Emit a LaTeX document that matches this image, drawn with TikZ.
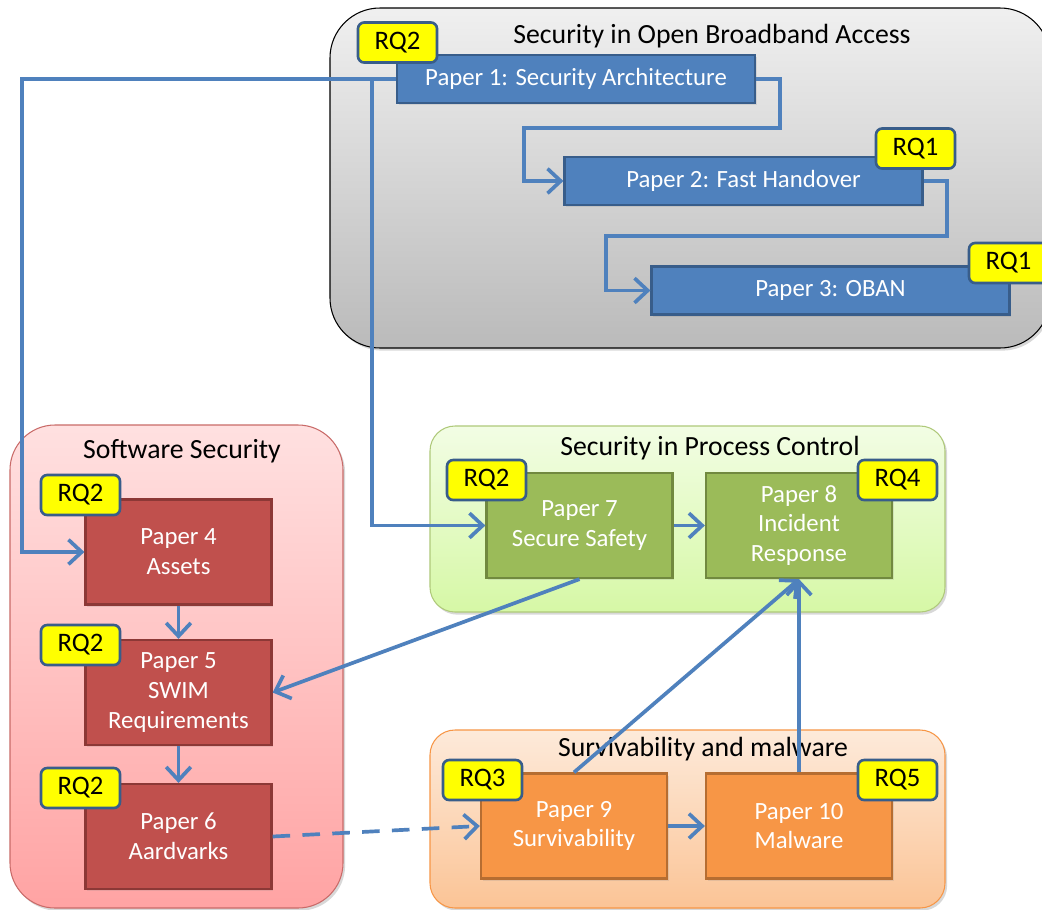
\documentclass[tikz,border=0pt]{standalone}
\usepackage{fontspec}
\setmainfont{Carlito}
\usetikzlibrary{arrows.meta,fit,shadows}

\definecolor{linkblue}{HTML}{4F81BD}
\definecolor{blueedge}{HTML}{385D8A}
\definecolor{redfill}{HTML}{C0504D}
\definecolor{rededge}{HTML}{8C3836}
\definecolor{greenfill}{HTML}{9BBB59}
\definecolor{greenedge}{HTML}{71893F}
\definecolor{orangefill}{HTML}{F79646}
\definecolor{orangeedge}{HTML}{B66D31}
\definecolor{rqyellow}{HTML}{FFFF00}

\newcommand\grptitlefont{\fontsize{15.8}{19}\selectfont}
\newcommand\rqlabelfont{\fontsize{15.2}{18}\selectfont}
\newcommand\paperlabelfont{\fontsize{14.1}{17}\selectfont}

\tikzset{
  group/.style={draw, line width=0.6pt, inner sep=0pt,
    drop shadow={opacity=0.3, shadow xshift=1.2pt, shadow yshift=-1.5pt}},
  grptitle/.style={font=\grptitlefont, text=black, inner sep=0pt},
  paper/.style={draw, line width=1.3pt, text=white, font=\paperlabelfont,
    align=center, inner sep=0pt,
    drop shadow={opacity=0.18, shadow xshift=1pt, shadow yshift=-1.2pt}},
  widepaper/.style={minimum width=7.16cm, minimum height=0.96cm},
  tallpaper/.style={minimum width=3.72cm, minimum height=2.1cm},
  bluepaper/.style={paper, widepaper, fill=linkblue, draw=blueedge},
  redpaper/.style={paper, tallpaper, fill=redfill, draw=rededge},
  greenpaper/.style={paper, tallpaper, fill=greenfill, draw=greenedge},
  orangepaper/.style={paper, tallpaper, fill=orangefill, draw=orangeedge},
  rq/.style={fill=rqyellow, draw=blueedge, line width=1.5pt, rounded corners=3.5pt,
    font=\rqlabelfont, text=black, inner sep=0pt,
    minimum width=1.58cm, minimum height=0.8cm},
  conn/.style={draw=linkblue, line width=2.1pt,
    -{Straight Barb[length=7.5pt,width=14pt,line width=2.1pt]}},
}

\begin{document}
\begin{tikzpicture}[x=0.02cm, y=-0.02cm]
\clip (0,0) rectangle (1042,910);
\fill[white] (0,0) rectangle (1042,910);

% ---- group panels ----
\node[group, rounded corners=1cm, draw=black, top color=black!6, bottom color=black!27,
      fit={(330,8) (1050,348)}] (gOBA) {};
\node[group, rounded corners=0.9cm, draw=redfill!85, top color=red!12!white, bottom color=red!36!white,
      fit={(10,425) (343,908)}] (gSW) {};
\node[group, rounded corners=0.5cm, draw=greenfill!80, top color={rgb,255:red,242;green,253;blue,228},
      bottom color={rgb,255:red,214;green,248;blue,166}, fit={(430,426) (945,612)}] (gPC) {};
\node[group, rounded corners=0.5cm, draw=orangefill, top color={rgb,255:red,253;green,234;blue,218},
      bottom color={rgb,255:red,251;green,196;blue,150}, fit={(430,730) (945,908)}] (gSM) {};

\node[grptitle] (tOBA) at (712,36) {Security in Open Broadband Access};
\node[grptitle] (tSW)  at (182,451) {Software Security};
\node[grptitle] (tPC)  at (710,448) {Security in Process Control};
\node[grptitle] (tSM)  at (703,749) {Survivability and malware};

% ---- papers ----
\node[bluepaper] (p1) at (576,79)    {Paper 1: Security Architecture};
\node[bluepaper] (p2) at (743.5,181) {Paper 2: Fast Handover};
\node[bluepaper] (p3) at (830.5,290.5)  {Paper 3: OBAN};

\node[redpaper] (p4) at (178.5,552)   {Paper 4\\Assets};
\node[redpaper] (p5) at (178.5,692.5) {Paper 5\\SWIM\\Requirements};
\node[redpaper] (p6) at (178.5,836.5) {Paper 6\\Aardvarks};

\node[greenpaper] (p7) at (579.5,525.5) {Paper 7\\Secure Safety};
\node[greenpaper] (p8) at (799,525.5)   {Paper 8\\Incident\\Response};

\node[orangepaper] (p9)  at (574,826) {Paper 9\\Survivability};
\node[orangepaper] (p10) at (799,826) {Paper 10\\Malware};

% ---- research question tags ----
\node[rq] (rq1) at (397.5,42.5) {RQ2};
\node[rq] (rq2) at (915.5,148.5) {RQ1};
\node[rq] (rq3) at (1008.5,263) {RQ1};
\node[rq] (rq4) at (80.5,495) {RQ2};
\node[rq] (rq5) at (80.5,645) {RQ2};
\node[rq] (rq6) at (80.5,788) {RQ2};
\node[rq] (rq7) at (486.5,480) {RQ2};
\node[rq] (rq8) at (897.5,480) {RQ4};
\node[rq] (rq9) at (482.5,780) {RQ3};
\node[rq] (rq10) at (897.5,780) {RQ5};

% ---- connectors ----
\draw[conn] (p1.east) -- (780,79) -- (780,128) -- (524,128) |- (p2.west);
\draw[conn] (p2.east) -- (947,181) -- (947,236) -- (606,236) |- (p3.west);
\draw[conn] (p1.west) -- (22,79) |- (p4.west);
\coordinate (split) at (372,79);
\draw[conn] (split) |- (p7.west);

\draw[conn] (p4.south) -- (p5.north);
\draw[conn] (p5.south) -- (p6.north);
\draw[conn] (p7.east) -- (p8.west);
\draw[conn] (p9.east) -- (p10.west);

\draw[conn] (p7.south) -- (p5.east);
\draw[conn] (p9.north) -- (p8.south);
\draw[conn] (p10.north) -- (p8.south);
\draw[conn, dash pattern=on 10pt off 7pt] (p6.east) -- (p9.west);
\end{tikzpicture}
\end{document}
